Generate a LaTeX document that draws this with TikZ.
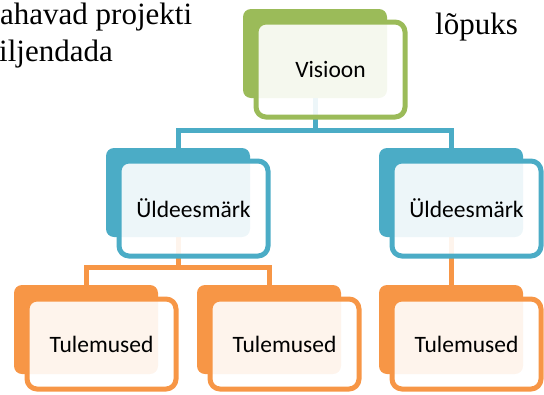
\documentclass[tikz,border=0pt]{standalone}
\usepackage{fontspec}
\setmainfont{Liberation Serif}
\newfontfamily\boxfont{Carlito}
\usetikzlibrary{positioning,backgrounds}
\definecolor{visgreen}{HTML}{9BBB59}
\definecolor{goalblue}{HTML}{4BACC6}
\definecolor{resorange}{HTML}{F79646}

\begin{document}
\begin{tikzpicture}[x = 1pt, y = -1pt,
        back/.style = {rectangle, rounded corners = 8pt, fill = #1, inner sep = 0pt, outer sep = 0pt,
            minimum width = 144pt, minimum height = 89pt, anchor = north west},
        front/.style = {rectangle, rounded corners = 10pt, draw = #1, line width = 5pt,
            fill = white, fill opacity = 0.9, text opacity = 1, inner sep = 0pt, outer sep = 0pt,
            minimum width = 149pt, minimum height = 95pt, font = \boxfont\fontsize{23.5}{28}\selectfont},
        link/.style = {draw = #1, line width = 5pt}]
        \useasboundingbox (0,0) rectangle (544,394);
        % text of the slide behind the chart
        \begin{scope}[font = \fontsize{31}{37}\selectfont]
            \node [anchor = base west, inner sep = 0pt] (txtA) at (0,24) {ahavad projekti};
            \node [anchor = base west, inner sep = 0pt] (txtB) at (-1,61) {iljendada};
            \node [anchor = base west, inner sep = 0pt] (txtC) at (435,34) {lõpuks};
        \end{scope}
        % vision
        \node [back = visgreen] (visB) at (243,9) {};
        \node [front = visgreen, below right = 13pt and 13pt of visB.north west] (vis) {Visioon};
        % goals
        \node [back = goalblue] (goalB1) at (106,148) {};
        \node [front = goalblue, below right = 13pt and 13pt of goalB1.north west] (goal1) {Üldeesmärk};
        \node [back = goalblue] (goalB2) at (379,148) {};
        \node [front = goalblue, below right = 13pt and 13pt of goalB2.north west] (goal2) {Üldeesmärk};
        % results
        \node [back = resorange] (resB1) at (14,285) {};
        \node [front = resorange, minimum height = 90pt, below right = 14pt and 13pt of resB1.north west] (res1) {Tulemused};
        \node [back = resorange] (resB2) at (197,285) {};
        \node [front = resorange, minimum height = 90pt, below right = 14pt and 13pt of resB2.north west] (res2) {Tulemused};
        \node [back = resorange] (resB3) at (379,285) {};
        \node [front = resorange, minimum height = 90pt, below right = 14pt and 13pt of resB3.north west] (res3) {Tulemused};
        % connectors
        \begin{scope}[on background layer]
            \coordinate (visSplit) at ([yshift = -32pt]visB.south);
            \coordinate (goalSplit) at ([yshift = -30pt]goalB1.south);
            \draw [link = goalblue] (visB.south) -- (visSplit);
            \draw [link = goalblue] (goalB1.north) |- (visSplit) -| (goalB2.north);
            \draw [link = resorange] (goalB1.south) -- (goalSplit);
            \draw [link = resorange] (resB1.north) |- (goalSplit) -| (resB2.north);
            \draw [link = resorange] (goalB2.south) -- (resB3.north);
        \end{scope}
    \end{tikzpicture}
\end{document}
